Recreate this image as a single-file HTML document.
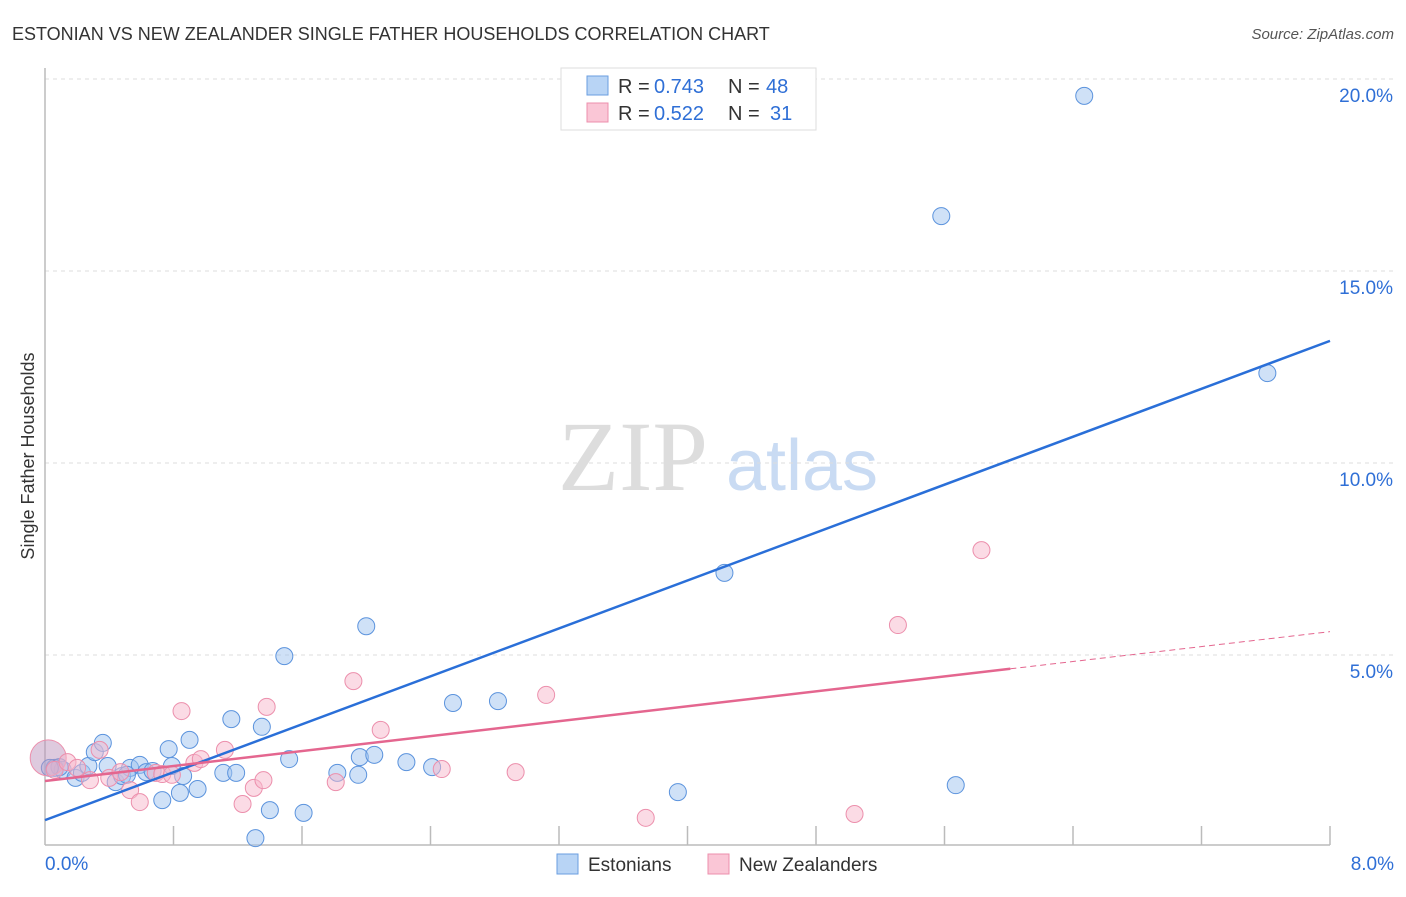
<!DOCTYPE html>
<html><head><meta charset="utf-8"><style>
body{margin:0;background:#fff;font-family:"Liberation Sans",sans-serif;}
svg text{font-family:"Liberation Sans",sans-serif;}
</style></head><body>
<svg id="c" width="1406" height="892" viewBox="0 0 1406 892">
<text x="12" y="40" font-size="18" fill="#333">ESTONIAN VS NEW ZEALANDER SINGLE FATHER HOUSEHOLDS CORRELATION CHART</text>
<text x="1394" y="39" font-size="15" fill="#555" text-anchor="end" font-style="italic">Source: ZipAtlas.com</text>
<text x="633" y="490" font-size="100" fill="#ddd" style="font-family:'Liberation Serif',serif" text-anchor="middle">ZIP</text>
<text x="802" y="490" font-size="72" fill="#c9dbf3" text-anchor="middle">atlas</text>
<text x="34" y="456" font-size="18" fill="#333" text-anchor="middle" transform="rotate(-90 34 456)">Single Father Households</text>
<g id="grid"></g><g id="marks"></g>
<g>
<rect x="561" y="68" width="255" height="62" fill="#fff" stroke="#ddd"/>
<rect x="587" y="76" width="21" height="19" fill="#b8d4f5" stroke="#6a9ee0"/>
<rect x="587" y="103" width="21" height="19" fill="#fac6d6" stroke="#ec8fac"/>
<text x="618" y="93" font-size="20" fill="#333">R =</text>
<text x="654" y="93" font-size="20" fill="#2f6fd6">0.743</text>
<text x="728" y="93" font-size="20" fill="#333">N =</text>
<text x="766" y="93" font-size="20" fill="#2f6fd6">48</text>
<text x="618" y="120" font-size="20" fill="#333">R =</text>
<text x="654" y="120" font-size="20" fill="#2f6fd6">0.522</text>
<text x="728" y="120" font-size="20" fill="#333">N =</text>
<text x="770" y="120" font-size="20" fill="#2f6fd6">31</text>
</g>
<g>
<rect x="557" y="854" width="21" height="20" fill="#b8d4f5" stroke="#6a9ee0"/>
<text x="588" y="871" font-size="19" fill="#333">Estonians</text>
<rect x="708" y="854" width="21" height="20" fill="#fac6d6" stroke="#ec8fac"/>
<text x="739" y="871" font-size="19" fill="#333">New Zealanders</text>
</g>
</svg>
<script>
const yTicks=[5,10,15,20];
const yTickLabels=["5.0%","10.0%","15.0%","20.0%"];
const xTickLabels=["0.0%","8.0%"];
const estX=[0.06,0.11,0.19,0.23,0.27,0.31,0.36,0.39,0.44,0.48,0.53,0.59,0.63,0.67,0.73,0.77,0.79,0.84,0.86,0.90,0.95,1.11,1.16,1.19,1.35,1.40,1.49,1.52,1.61,1.82,1.95,1.96,2.00,2.05,2.25,2.41,2.54,2.82,3.94,4.23,5.58,5.67,6.47,7.61,1.31,0.51,0.09,0.03];
const estY=[2.06,2.01,1.80,1.93,2.11,2.47,2.71,2.11,1.69,1.85,2.06,2.14,1.95,1.98,1.22,2.55,2.11,1.41,1.85,2.79,1.51,1.93,3.33,1.93,3.13,0.96,4.97,2.29,0.89,1.93,1.88,2.34,5.75,2.40,2.21,2.08,3.75,3.80,1.43,7.14,16.43,1.61,19.56,12.34,0.23,1.88,2.08,2.06];
const nzX=[0.02,0.06,0.14,0.20,0.28,0.34,0.40,0.47,0.53,0.59,0.69,0.73,0.79,0.85,0.93,0.97,1.12,1.23,1.30,1.36,1.38,1.81,1.92,2.09,2.47,2.93,3.12,3.74,5.04,5.31,5.83];
const nzY=[2.32,2.01,2.21,2.06,1.74,2.53,1.80,1.95,1.48,1.17,1.93,1.90,1.88,3.54,2.19,2.29,2.53,1.12,1.54,1.74,3.65,1.69,4.32,3.05,2.03,1.95,3.96,0.76,0.86,5.78,7.73];
const nzR=[18];
const estLine=[0.70,13.18];
const nzLine=[1.72,0.486,6.01];
const X0=45,X1=1330,Y0=847,PY=38.4;
const sx=v=>X0+(X1-X0)*v/8, sy=v=>Y0-v*PY;
const ns="http://www.w3.org/2000/svg";
function mk(t,a,p){const e=document.createElementNS(ns,t);for(const k in a)e.setAttribute(k,a[k]);p.appendChild(e);return e;}
const g=document.getElementById('grid'),m=document.getElementById('marks');
yTicks.forEach((v,i)=>{
 const l=mk('line',{x1:X0,x2:1395,y1:sy(v),y2:sy(v),stroke:'#ddd','stroke-dasharray':'4 4'},g);
 
 
 const t=mk('text',{x:1393,y:sy(v)+23,'font-size':19,fill:'#2f6fd6','text-anchor':'end'},g);
 t.textContent=yTickLabels[i];
 
 
});
const ax=mk('line',{x1:X0,x2:X0,y1:68,y2:845,stroke:'#bbb','stroke-width':1.5},g);


const bx=mk('line',{x1:X0,x2:X1,y1:845,y2:845,stroke:'#bbb','stroke-width':1.5},g);


for(let i=1;i<=10;i++){const t=mk('line',{x1:sx(i*0.8),x2:sx(i*0.8),y1:826,y2:845,stroke:'#bbb','stroke-width':1.5},g);
 
 }
[[0,'start',45],[8,'end',1394]].forEach((d,i)=>{const t=mk('text',{x:d[2],y:870,'font-size':19,fill:'#2f6fd6','text-anchor':d[1]},g);t.textContent=xTickLabels[i];
 
 });
estX.forEach((v,i)=>{const c=mk('circle',{cx:sx(v),cy:sy(estY[i]),r:8.5,fill:'rgba(160,196,240,0.5)',stroke:'#5b93dd','stroke-width':1},m);
 
 });
nzX.forEach((v,i)=>{const c=mk('circle',{cx:sx(v),cy:sy(nzY[i]),r:i==0?nzR[0]:8.5,fill:i==0?'rgba(190,150,190,0.5)':'rgba(248,184,204,0.5)',stroke:'#ec8fac','stroke-width':1},m);
 
 });
const bl=mk('line',{x1:sx(0),y1:sy(estLine[0]),x2:sx(8),y2:sy(estLine[1]),stroke:'#2a6fd8','stroke-width':2.5},m);


const pl=mk('line',{x1:sx(0),y1:sy(nzLine[0]),x2:sx(nzLine[2]),y2:sy(nzLine[0]+nzLine[1]*nzLine[2]),stroke:'#e4668f','stroke-width':2.5},m);


const pd=mk('line',{x1:sx(nzLine[2]),y1:sy(nzLine[0]+nzLine[1]*nzLine[2]),x2:sx(8),y2:sy(nzLine[0]+nzLine[1]*8),stroke:'#e4668f','stroke-width':1,'stroke-dasharray':'6 4'},m);


</script>
</body></html>
